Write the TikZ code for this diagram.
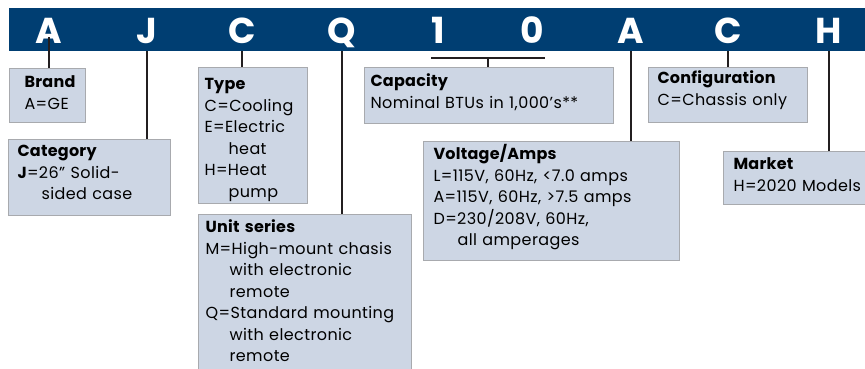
\documentclass[tikz,border=0pt]{standalone}
\usepackage{fontspec}
\setmainfont{Poppins}[LetterSpace=2.5,BoldFeatures={LetterSpace=1.5}]
\newfontfamily\bandfont{Poppins}

\definecolor{bandblue}{RGB}{0,62,114}
\definecolor{boxfill}{RGB}{205,214,228}
\definecolor{boxline}{RGB}{168,170,174}
\definecolor{linkcol}{RGB}{35,31,32}

\newcommand{\ind}{\hspace*{24pt}}

\begin{document}
\begin{tikzpicture}[x=1pt,y=1pt,
  codebox/.style={draw=boxline,line width=1.1pt,fill=boxfill,anchor=north west,
    align=left,inner ysep=0pt,font=\fontsize{16}{21.5}\selectfont},
  letter/.style={anchor=base,text=white,inner sep=0pt,
    font=\bandfont\fontsize{36}{36}\selectfont\bfseries},
  link/.style={draw=linkcol,line width=1.8pt}]
  \useasboundingbox (0,0) rectangle (865,-368);

  % code band
  \node[fill=bandblue,anchor=north west,minimum width=870pt,minimum height=43pt,inner sep=0pt] (band) at (9,-8) {};
  \foreach \ch/\x/\nm in {A/49/a, J/147/j, C/242/c, Q/342/q, 1/438/one, 0/532/zero, A/631/v, C/728/k, H/829/h} {
    \node[letter] (ltr\nm) at (\x,-43) {\ch};
  }

  % boxes
  \node[codebox,inner xsep=15pt,text width=46pt,text height=19pt,text depth=35pt] (brandbox) at (9,-68)
    {\textbf{Brand}\\A=GE};
  \node[codebox,inner xsep=9pt,text width=144pt,text height=17pt,text depth=59pt] (catbox) at (8,-139)
    {\textbf{Category}\\\textbf{J}=26" Solid-\\\ind sided case};
  \node[codebox,inner xsep=6pt,text width=97pt,text height=22pt,text depth=114pt] (typebox) at (198,-67)
    {\textbf{Type}\\C=Cooling\\E=Electric\\\ind heat\\H=Heat\\\ind pump};
  \node[codebox,inner xsep=7pt,text width=199pt,text height=18pt,text depth=160pt] (unitbox) at (198,-214)
    {\textbf{Unit series}\\M=High-mount chasis\\\ind with electronic\\\ind remote\\Q=Standard mounting\\\ind with electronic\\\ind remote};
  \node[codebox,inner xsep=6pt,text width=237pt,text height=19pt,text depth=37pt] (capbox) at (364,-67)
    {\textbf{Capacity}\\Nominal BTUs in 1,000’s**};
  \node[codebox,inner xsep=9pt,text width=141pt,text height=16pt,text depth=39pt] (confbox) at (648,-67)
    {\textbf{Configuration}\\C=Chassis only};
  \node[codebox,inner xsep=10pt,text width=236pt,text height=18pt,text depth=101pt] (voltbox) at (423,-141)
    {\textbf{Voltage/Amps}\\L=115V, 60Hz, <7.0 amps\\A=115V, 60Hz, >7.5 amps\\D=230/208V, 60Hz,\\\ind all amperages};
  \node[codebox,inner xsep=10pt,text width=150pt,text height=18pt,text depth=35pt] (marketbox) at (723,-151)
    {\textbf{Market}\\H=2020 Models};

  % connectors
  \draw[link] ([yshift=6pt]ltra.base) -- (ltra.base |- brandbox.north);
  \draw[link] (ltrj |- band.south) -- (ltrj |- catbox.north);
  \draw[link] (ltrc |- band.south) -- (ltrc |- typebox.north);
  \draw[link] (ltrq |- band.south) -- (ltrq |- unitbox.north);
  \coordinate (capL) at (431,-58);
  \coordinate (capR) at (545,-58);
  \coordinate (capM) at (488,-58);
  \draw[link] (capL) -- (capR);
  \draw[link] (capM) -- (capM |- capbox.north);
  \draw[link] (ltrv |- band.south) -- (ltrv |- voltbox.north);
  \draw[link] (ltrk |- band.south) -- (ltrk |- confbox.north);
  \draw[link] (ltrh |- band.south) -- (ltrh |- marketbox.north);
\end{tikzpicture}
\end{document}
